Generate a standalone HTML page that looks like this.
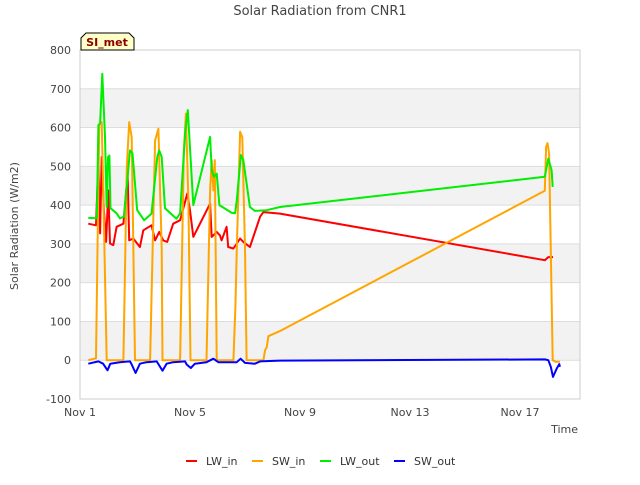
<!DOCTYPE html>
<html><head><meta charset="utf-8"><style>
body{margin:0;background:#fff;font-family:"Liberation Sans","DejaVu Sans",sans-serif;}
svg text{font-family:"DejaVu Sans","Liberation Sans",sans-serif;}
</style></head><body>
<svg id="chart" width="640" height="480" xmlns="http://www.w3.org/2000/svg">
<rect width="640" height="480" fill="#fff"/>
<text x="320" y="15" text-anchor="middle" font-size="13" fill="#444">Solar Radiation from CNR1</text>
<text transform="translate(18,226) rotate(-90)" text-anchor="middle" font-size="11" fill="#444">Solar Radiation (W/m2)</text>
<text x="578" y="433" text-anchor="end" font-size="11" fill="#444">Time</text>
<g id="grid"></g><g id="axes"></g><g id="series"></g>
<g>
<path d="M81,50 L81,38 L86,33 L129,33 L134,38 L134,50 Z" fill="#ffffc8" stroke="#000" stroke-width="1"/>
<text x="107" y="46" text-anchor="middle" font-size="11" font-weight="bold" fill="#8b0000">SI_met</text>
</g>
<g id="legend"></g>
</svg>
<script>
const yTicks=[-100,0,100,200,300,400,500,600,700,800];
const xTickDays=[1,5,9,13,17];
const xTickLabels=["Nov 1","Nov 5","Nov 9","Nov 13","Nov 17"];
const seriesNames=["LW_in","SW_in","LW_out","SW_out"];
const seriesColors=["#ff0000","#ffa500","#00ee00","#0000ff"];
const lwInDays=[1.30,1.58,1.67,1.73,1.79,1.87,1.95,2.03,2.09,2.21,2.33,2.58,2.73,2.79,2.94,3.18,3.30,3.60,3.73,3.88,4.03,4.17,4.39,4.64,4.90,5.0,5.12,5.73,5.79,5.97,6.09,6.15,6.33,6.39,6.58,6.70,6.82,6.94,7.18,7.55,7.67,8.27,17.9,18.03,18.2];
const lwInVals=[352,348,516,327,524,387,305,438,301,297,344,352,481,309,314,292,335,348,309,331,309,305,352,361,430,387,318,404,318,331,322,309,344,292,288,301,314,305,292,370,382,378,258,266,266];
const swInDays=[1.30,1.58,1.67,1.70,1.79,1.84,1.97,2.58,2.70,2.79,2.88,3.0,3.55,3.73,3.85,3.97,4.0,4.64,4.78,4.85,4.94,5.02,5.6,5.73,5.79,5.85,5.90,5.97,6.58,6.65,6.70,6.82,6.90,7.0,7.06,7.67,7.73,7.79,7.85,8.27,17.9,17.95,18.0,18.06,18.19,18.3,18.45];
const swInVals=[0,5,456,607,614,456,0,0,498,614,575,0,0,567,597,288,0,0,541,636,412,0,0,438,516,438,516,0,0,137,288,589,575,288,0,0,26,33,62,75,437,550,560,533,0,-4,-4];
const lwOutDays=[1.30,1.61,1.67,1.73,1.81,1.91,1.97,2.02,2.07,2.11,2.33,2.45,2.6,2.82,2.91,3.08,3.33,3.6,3.81,3.88,3.97,4.09,4.51,4.64,4.82,4.92,5.12,5.73,5.79,5.87,5.97,6.07,6.52,6.64,6.70,6.85,6.94,7.18,7.36,7.79,8.27,17.9,18.03,18.15,18.19];
const lwOutVals=[367,366,606,611,739,576,395,524,528,392,379,366,370,541,533,387,361,378,524,541,524,392,365,379,585,645,400,576,490,473,481,400,380,379,413,529,516,395,385,387,395,473,520,490,447];
const swOutDays=[1.3,1.67,1.84,2.0,2.1,2.45,2.82,2.88,3.02,3.18,3.42,3.79,4.0,4.15,4.39,4.82,4.88,5.03,5.18,5.6,5.85,6.03,6.7,6.84,7.0,7.36,7.55,8.27,17.9,18.03,18.12,18.2,18.33,18.43,18.45];
const swOutVals=[-9,-3,-9,-26,-9,-5,-3,-11,-33,-9,-5,-3,-27,-9,-5,-3,-11,-20,-9,-5,4,-5,-5,4,-7,-9,-3,-1,2,0,-17,-43,-22,-10,-17];
const allDays=[lwInDays,swInDays,lwOutDays,swOutDays];
const allVals=[lwInVals,swInVals,lwOutVals,swOutVals];

const L=80,R=580,T=50,B=399;
const xMin=1,xMax=(R-L)/27.5+1,yMin=-100,yMax=800;
const xS=d=>L+(d-xMin)/(xMax-xMin)*(R-L);
const yS=v=>B-(v-yMin)/(yMax-yMin)*(B-T);
const NS="http://www.w3.org/2000/svg";
function mk(tag,attrs,parent){const e=document.createElementNS(NS,tag);for(const k in attrs)e.setAttribute(k,attrs[k]);parent.appendChild(e);return e;}
const grid=document.getElementById('grid'),axes=document.getElementById('axes'),ser=document.getElementById('series'),leg=document.getElementById('legend');
for(let i=0;i<yTicks.length-1;i++){
  if(i%2===1){const b=mk('rect',{x:L,y:yS(yTicks[i+1]),width:R-L,height:yS(yTicks[i])-yS(yTicks[i+1]),fill:'#f2f2f2'},grid);
  
  }
}
yTicks.forEach(v=>{
  const l=mk('line',{x1:L,x2:R,y1:yS(v),y2:yS(v),stroke:'#dddddd','stroke-width':1},grid);
  
  
  const t=mk('text',{x:L-9,y:yS(v)+4,'text-anchor':'end','font-size':11,fill:'#444'},axes);
  t.textContent=v;
  
  
});
xTickDays.forEach((d,i)=>{
  const t=mk('text',{x:xS(d),y:B+17,'text-anchor':'middle','font-size':11,fill:'#444'},axes);
  t.textContent=xTickLabels[i];
  
  
});
const fr=mk('rect',{x:L,y:T,width:R-L,height:B-T,fill:'none',stroke:'#cccccc','stroke-width':1},axes);


allDays.forEach((ds,si)=>{
  const pts=ds.map((d,i)=>xS(d).toFixed(1)+','+yS(allVals[si][i]).toFixed(1)).join(' ');
  const p=mk('polyline',{points:pts,fill:'none',stroke:seriesColors[si],'stroke-width':2,'stroke-linejoin':'round'},ser);
  
  
});
const legX=[186,252,320,394];
seriesNames.forEach((n,i)=>{
  const g=mk('g',{},leg);
  
  
  mk('line',{x1:legX[i],x2:legX[i]+11,y1:461,y2:461,stroke:seriesColors[i],'stroke-width':2},g);
  const t=mk('text',{x:legX[i]+20,y:465,'font-size':11,fill:'#333'},g);
  t.textContent=n;
});
</script>
</body></html>
